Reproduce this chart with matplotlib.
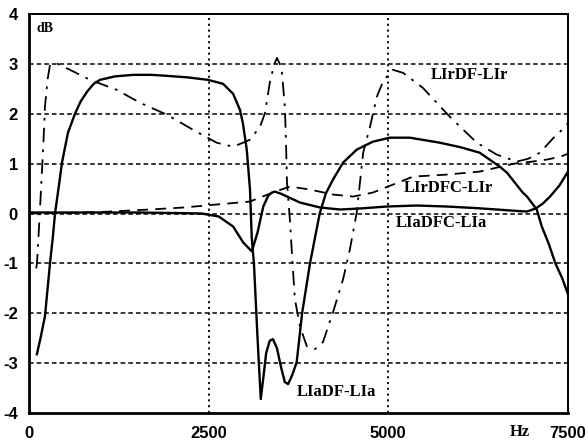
import numpy as np
import matplotlib
matplotlib.use("Agg")
import matplotlib.pyplot as plt

# LIaDF-LIa (solid)
f_adf = [110, 160, 222, 292, 330, 362, 420, 459, 542, 640, 720, 807, 900, 988,
         1200, 1450, 1700, 1920, 2200, 2490, 2700, 2840, 2935, 2975, 3030, 3075,
         3100, 3130, 3180, 3225, 3260, 3300, 3350, 3395, 3450, 3510, 3560, 3605,
         3660, 3725, 3800, 3910, 4045, 4130, 4230, 4370, 4560, 4785, 5020, 5300,
         5715, 6000, 6270, 6410, 6550, 6650, 6870, 6930, 7065, 7135, 7230, 7325,
         7420, 7500]
v_adf = [-2.82, -2.5, -2.06, -1.0, -0.5, 0.0, 0.6, 1.02, 1.62, 2.0, 2.25, 2.44,
         2.6, 2.68, 2.75, 2.78, 2.78, 2.76, 2.73, 2.68, 2.6, 2.4, 2.08, 1.82,
         1.28, 0.48, -0.5, -1.0, -2.5, -3.72, -3.3, -2.8, -2.55, -2.52, -2.7,
         -3.1, -3.38, -3.42, -3.25, -2.98, -2.0, -1.0, 0.0, 0.4, 0.68, 1.02,
         1.28, 1.44, 1.52, 1.52, 1.42, 1.33, 1.22, 1.08, 0.94, 0.82, 0.42, 0.34,
         0.08, -0.26, -0.6, -1.0, -1.3, -1.62]

# LIaDFC-LIa (solid)
f_adfc = [0, 500, 1000, 1500, 2000, 2400, 2640, 2840, 2980, 3100, 3180, 3260,
          3330, 3380, 3420, 3500, 3590, 3770, 4050, 4330, 4600, 4980, 5400,
          5810, 6200, 6510, 6800, 6930, 7050, 7150, 7250, 7380, 7500]
v_adfc = [0.02, 0.02, 0.02, 0.02, 0.01, 0.0, -0.06, -0.26, -0.58, -0.76, -0.38,
          0.14, 0.36, 0.42, 0.44, 0.4, 0.34, 0.22, 0.12, 0.08, 0.1, 0.14, 0.16,
          0.14, 0.11, 0.08, 0.05, 0.04, 0.1, 0.2, 0.34, 0.56, 0.84]

# LIrDF-LIr (dash-dot)
f_rdf = [100, 111, 150, 167, 200, 222, 260, 292, 400, 570, 850, 1220, 1545,
         1920, 2280, 2610, 2840, 2980, 3075, 3215, 3285, 3350, 3410, 3450, 3490,
         3520, 3560, 3575, 3590, 3630, 3670, 3700, 3770, 3865, 3980, 4090, 4230,
         4370, 4465, 4560, 4650, 4745, 4840, 4925, 5020, 5065, 5205, 5480, 5855,
         6230, 6510, 6790, 6950, 7110, 7300, 7480, 7500]
v_rdf = [-1.1, -1.0, 0.0, 0.48, 1.4, 2.14, 2.7, 2.98, 3.0, 2.88, 2.68, 2.48,
         2.22, 1.98, 1.68, 1.42, 1.34, 1.42, 1.48, 1.74, 2.02, 2.62, 2.98, 3.12,
         3.0, 2.82, 2.14, 1.48, 0.62, -0.12, -1.06, -1.72, -2.26, -2.66, -2.72,
         -2.58, -1.98, -1.32, -0.72, 0.02, 1.22, 1.74, 2.34, 2.64, 2.82, 2.88,
         2.82, 2.52, 1.94, 1.42, 1.18, 1.04, 1.1, 1.22, 1.52, 1.76, 1.82]

# LIrDFC-LIr (dashed)
f_rdfc = [0, 500, 1000, 1680, 2150, 2610, 3075, 3250, 3450, 3630, 3910, 4230,
          4510, 4785, 5065, 5345, 5815, 6270, 6750, 7000, 7200, 7400, 7500]
v_rdfc = [0.0, 0.01, 0.03, 0.08, 0.12, 0.18, 0.24, 0.34, 0.45, 0.54, 0.48, 0.38,
          0.34, 0.42, 0.58, 0.74, 0.78, 0.84, 1.0, 1.04, 1.08, 1.14, 1.2]

x_ticks = [0, 2500, 5000, 7500]
y_ticks = [-4, -3, -2, -1, 0, 1, 2, 3, 4]

fig = plt.figure(figsize=(5.88, 4.44), dpi=100)
ax = fig.add_axes([29 / 588, 1 - 413 / 444, 539 / 588, 399 / 444])

ax.plot(f_adf, v_adf, color="black", lw=1.7)
ax.plot(f_adfc, v_adfc, color="black", lw=1.7)
ax.plot(f_rdf, v_rdf, color="black", lw=1.3, linestyle=(0, (8, 4, 1.5, 4)))
ax.plot(f_rdfc, v_rdfc, color="black", lw=1.3, linestyle=(0, (6, 4)))

for y in y_ticks[1:-1]:
    ax.axhline(y, color="black", lw=1.1, linestyle=(0, (3, 2)), zorder=0)
for x in x_ticks[1:-1]:
    ax.axvline(x, color="black", lw=1.3, linestyle=(0, (1.2, 2)), zorder=0)

ax.set_xlim(0, 7500)
ax.set_ylim(-4, 4)
ax.set_xticks(x_ticks)
ax.set_yticks(y_ticks)
ax.set_xticklabels([str(t) for t in x_ticks])
ax.set_yticklabels([str(t) for t in y_ticks])
ax.tick_params(axis="x", length=0, labelsize=12, pad=9)
ax.tick_params(axis="y", length=0, labelsize=12, pad=8)
for lab in ax.get_xticklabels() + ax.get_yticklabels():
    lab.set_fontweight("bold")
    lab.set_family("Liberation Sans")

for side in ["left", "bottom"]:
    ax.spines[side].set_linewidth(2.0)
for side in ["top", "right"]:
    ax.spines[side].set_linewidth(1.4)

serif = dict(family="Liberation Serif", fontweight="bold", color="black")
ax.text(100, 3.7, "dB", fontsize=10, ha="left", va="center", **serif)
ax.text(5590, 2.78, "LIrDF-LIr", fontsize=12, ha="left", va="center", **serif)
ax.text(5220, 0.52, "LIrDFC-LIr", fontsize=12, ha="left", va="center", **serif)
ax.text(5110, -0.2, "LIaDFC-LIa", fontsize=12, ha="left", va="center", **serif)
ax.text(3720, -3.58, "LIaDF-LIa", fontsize=12, ha="left", va="center", **serif)
fig.text(520 / 588, 1 - 432 / 444, "Hz", fontsize=12, ha="center", va="center", **serif)

fig.savefig("out.png", dpi=100)
